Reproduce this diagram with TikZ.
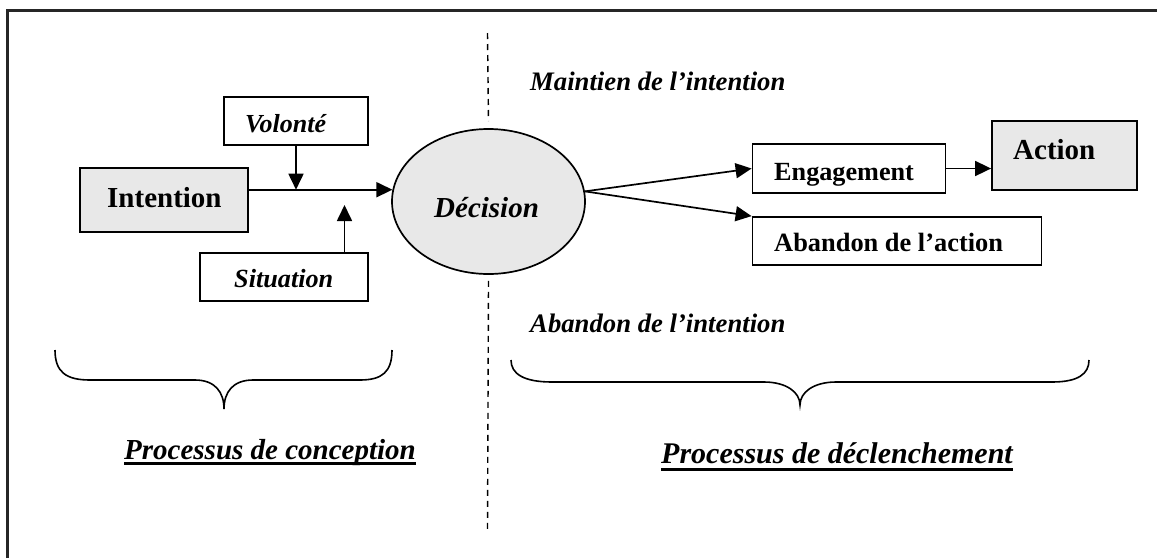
\documentclass[tikz,border=0pt]{standalone}
\usepackage{fontspec}
\setmainfont{Liberation Serif}
\usetikzlibrary{arrows.meta,shapes.geometric}
\definecolor{boxgray}{gray}{0.91}
\begin{document}
\begin{tikzpicture}[x=1pt,y=-1pt,
  box/.style={draw, rectangle, line width=1.8pt, inner sep=0pt},
  greybox/.style={box, fill=boxgray},
  lab/.style={anchor=base west, inner sep=0pt},
  arr/.style={-{Triangle[length=16pt,width=15pt]}, line width=1.7pt},
  dashline/.style={line width=1.4pt, dash pattern=on 6pt off 5pt},
  brace/.style={line width=1.6pt},
  uline/.style={line width=2.6pt}]
\useasboundingbox (0,0) rectangle (1157,558);
% frame
\draw[line width=2.6pt, black!85] (7.5,558) -- (7.5,10.5) -- (1157,10.5);

% boxes
\node[greybox, minimum width=168pt, minimum height=64pt] (int) at (164,200) {};
\node[box, minimum width=144pt, minimum height=48pt] (vol) at (296,121) {};
\node[box, minimum width=168pt, minimum height=48pt] (sit) at (284,277) {};
\node[draw, ellipse, fill=boxgray, line width=1.7pt, inner sep=0pt,
      minimum width=193pt, minimum height=145pt] (dec) at (488.5,201.5) {};
\node[box, minimum width=193pt, minimum height=49pt] (eng) at (849,168.5) {};
\node[greybox, minimum width=145pt, minimum height=69pt] (act) at (1064.5,155.5) {};
\node[box, minimum width=289pt, minimum height=48pt] (aba) at (897,241) {};

% labels
\node[lab, font=\bfseries\fontsize{29}{29}\selectfont] (tint) at (107,207) {Intention};
\node[lab, font=\bfseries\itshape\fontsize{26}{26}\selectfont] (tvol) at (245,132) {Volonté};
\node[lab, font=\bfseries\itshape\fontsize{26.2}{26.2}\selectfont] (tsit) at (234,287) {Situation};
\node[lab, font=\bfseries\itshape\fontsize{29}{29}\selectfont] (tdec) at (434,217) {Décision};
\node[lab, font=\bfseries\fontsize{26.2}{26.2}\selectfont] (teng) at (774,180) {Engagement};
\node[lab, font=\bfseries\fontsize{29}{29}\selectfont] (tact) at (1013,159) {Action};
\node[lab, font=\bfseries\fontsize{26.4}{26.4}\selectfont] (taba) at (774,251) {Abandon de l’action};
\node[lab, font=\bfseries\itshape\fontsize{26.7}{26.7}\selectfont] (tmai) at (530,90) {Maintien de l’intention};
\node[lab, font=\bfseries\itshape\fontsize{26.7}{26.7}\selectfont] (tabi) at (530,332) {Abandon de l’intention};
\node[lab, font=\bfseries\itshape\fontsize{29}{29}\selectfont] (pc) at (124,459) {Processus de conception};
\node[lab, font=\bfseries\itshape\fontsize{30}{30}\selectfont] (pd) at (661,463) {Processus de déclenchement};
\draw[uline] ([yshift=-4.5pt]pc.base west) -- ([yshift=-4.5pt]pc.base east);
\draw[uline] ([yshift=-6.5pt]pd.base west) -- ([yshift=-6.5pt]pd.base east);

% dashed separator
\coordinate (dtop) at (487.5,33);
\coordinate (dbot) at (487.5,530);
\draw[dashline] (dtop) -- ([yshift=7pt]dec.north);
\draw[dashline] ([yshift=-6pt]dec.south) -- (dbot);

% connectors
\draw[arr] (int.east |- dec.173.3) -- (dec.173.3);
\draw[arr] (vol.south) -- (vol.south |- dec.173.3);
\coordinate (sittip) at (344.5,205);
\draw[arr] (sit.north -| sittip) -- (sittip);
\draw[arr] (dec.6) -- (eng.west);
\draw[arr] (dec.6) -- (aba.north west);
\draw[arr] (eng.east) -- (act.west |- eng.east);

% braces
\draw[brace] (55,350) .. controls (55,372) and (66,380) .. (90,380) -- (195,380)
  .. controls (215,380) and (224,392) .. (224,409)
  .. controls (224,392) and (233,380) .. (253,380) -- (360,380)
  .. controls (382,380) and (392,372) .. (392,350);
\draw[brace] (511,360) .. controls (511,374) and (524,382) .. (552,382) -- (764,382)
  .. controls (786,382) and (800,392) .. (800,405)
  .. controls (800,392) and (814,382) .. (836,382) -- (1052,382)
  .. controls (1078,382) and (1089,374) .. (1089,360);
\end{tikzpicture}
\end{document}
